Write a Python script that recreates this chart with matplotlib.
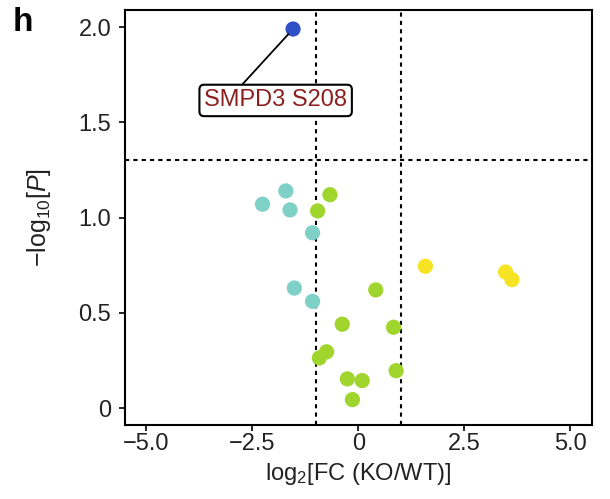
import matplotlib.pyplot as plt

plt.rcParams['font.family'] = ['Liberation Sans', 'DejaVu Sans']
plt.rcParams['mathtext.fontset'] = 'custom'
plt.rcParams['mathtext.rm'] = 'Liberation Sans'
plt.rcParams['mathtext.it'] = 'Liberation Sans:italic'

# log2 fold change and -log10 P per site, grouped by colour
teal_fc = [-1.71, -2.26, -1.61, -1.08, -1.51, -1.08]
teal_p = [1.14, 1.07, 1.04, 0.92, 0.63, 0.56]

green_fc = [-0.67, -0.96, 0.41, -0.38, 0.83, -0.75, -0.92, 0.89, -0.26, 0.09, -0.14]
green_p = [1.12, 1.035, 0.62, 0.44, 0.424, 0.295, 0.263, 0.196, 0.153, 0.144, 0.044]

yellow_fc = [1.58, 3.47, 3.62]
yellow_p = [0.744, 0.714, 0.674]

hit_fc = [-1.54]
hit_p = [1.99]
hit_label = 'SMPD3 S208'

fc_cut = 1.0
p_cut = 1.30

fig = plt.figure(figsize=(6.1, 4.99), dpi=100)
ax = fig.add_axes([0.205, 0.148, 0.765, 0.832])

ax.scatter(teal_fc, teal_p, s=120, color='#7fd0c6', edgecolors='none', zorder=3)
ax.scatter(green_fc, green_p, s=120, color='#9fd52c', edgecolors='none', zorder=3)
ax.scatter(yellow_fc, yellow_p, s=120, color='#f6e324', edgecolors='none', zorder=3)
ax.scatter(hit_fc, hit_p, s=120, color='#2f4fc9', edgecolors='none', zorder=4)

ax.axvline(-fc_cut, color='black', ls=(0, (2, 2)), lw=1.5, zorder=2)
ax.axvline(fc_cut, color='black', ls=(0, (2, 2)), lw=1.5, zorder=2)
ax.axhline(p_cut, color='black', ls=(0, (2, 2)), lw=1.5, zorder=2)

ax.annotate(hit_label, xy=(hit_fc[0], hit_p[0]), xytext=(-1.95, 1.615),
            ha='center', va='center', fontsize=17, color='#8b1f1f',
            bbox=dict(boxstyle='round,pad=0.2,rounding_size=0.2', fc='white', ec='black', lw=1.5),
            arrowprops=dict(arrowstyle='-', color='black', lw=1.3, relpos=(0.235, 1.0),
                            shrinkA=0, shrinkB=5),
            zorder=5)

ax.set_xlim(-5.5, 5.5)
ax.set_ylim(-0.09, 2.09)
ax.set_xticks([-5.0, -2.5, 0, 2.5, 5.0])
ax.set_xticklabels(['\u22125.0', '\u22122.5', '0', '2.5', '5.0'])
ax.set_yticks([0, 0.5, 1.0, 1.5, 2.0])
ax.set_yticklabels(['0', '0.5', '1.0', '1.5', '2.0'])
ax.tick_params(labelsize=17, length=4, width=1.2, colors='black', labelcolor='#222222')
ax.tick_params(axis='y', pad=6)
ax.tick_params(axis='x', pad=2)
for sp in ax.spines.values():
    sp.set_linewidth(1.5)

ax.set_xlabel('log$_2$[FC (KO/WT)]', fontsize=17, labelpad=4, color='#222222')
ax.set_ylabel('$-$log$_{10}$[$P$]', fontsize=18, labelpad=18, color='#222222')

fig.text(0.02, 0.985, 'h', fontsize=24, fontweight='bold', va='top', ha='left')

plt.savefig('out.png', dpi=100)
